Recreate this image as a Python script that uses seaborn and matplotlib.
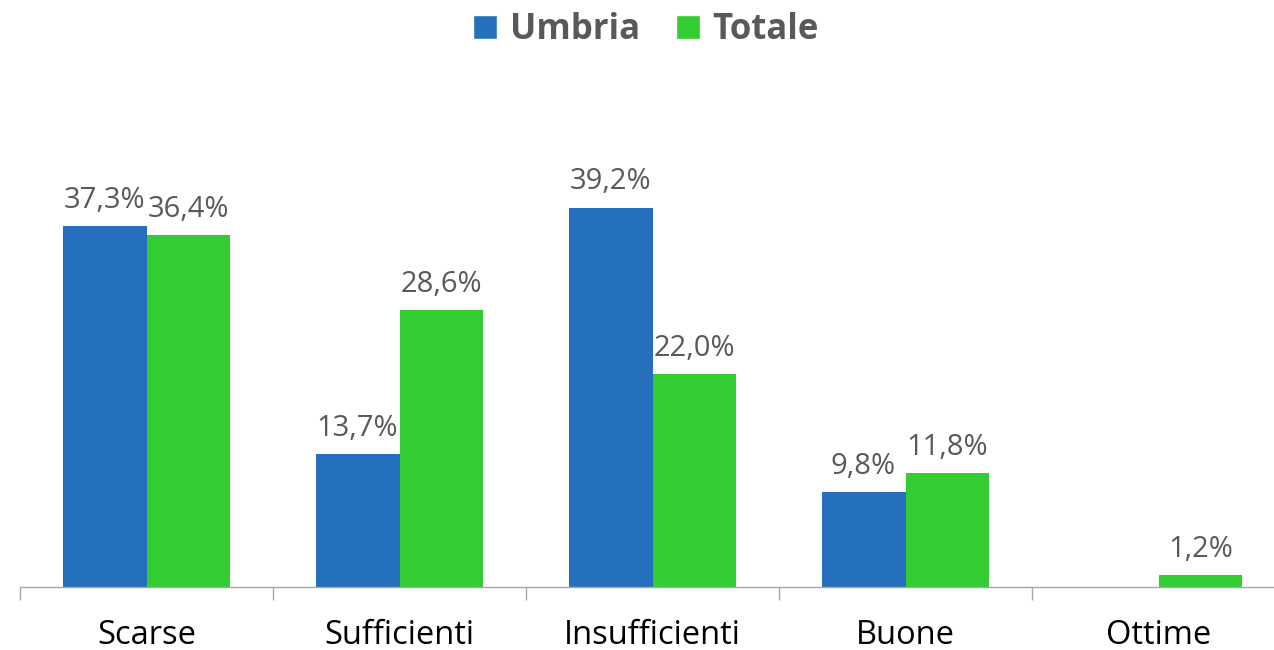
import matplotlib
matplotlib.use("Agg")
import matplotlib.pyplot as plt
import seaborn as sns
import pandas as pd
from matplotlib.patches import Patch

categories = ["Scarse", "Sufficienti", "Insufficienti", "Buone", "Ottime"]
umbria = [37.3, 13.7, 39.2, 9.8, 0.0]
totale = [36.4, 28.6, 22.0, 11.8, 1.2]
series = ["Umbria", "Totale"]

blue = "#2470BC"
green = "#33CC33"
label_gray = "#595959"

df = pd.DataFrame({
    "categoria": categories * 2,
    "serie": [series[0]] * len(categories) + [series[1]] * len(categories),
    "valore": umbria + totale,
})

sns.set_theme(style="white")
plt.rcParams["font.family"] = ["Open Sans", "DejaVu Sans"]

fig = plt.figure(figsize=(12.74, 6.5), dpi=100)
W, H = 1274, 650
ax = fig.add_axes([20 / W, (H - 587) / H, (1285 - 20) / W, (587 - 90) / H])

sns.barplot(data=df, x="categoria", y="valore", hue="serie",
            palette=[blue, green], width=0.664, saturation=1,
            linewidth=0, ax=ax, legend=False)

ax.set_xlim(-0.5, len(categories) - 0.5)
ax.set_ylim(0, (587 - 90) / 9.68)

for cont in ax.containers:
    for bar in cont:
        h = bar.get_height()
        if h > 0:
            ax.annotate(f"{h:.1f}%".replace(".", ","),
                        (bar.get_x() + bar.get_width() / 2, h),
                        xytext=(0, 8), textcoords="offset points",
                        ha="center", va="bottom", fontsize=21,
                        color=label_gray)

for s in ["top", "left", "right"]:
    ax.spines[s].set_visible(False)
ax.spines["bottom"].set_color("#A6A6A6")
ax.spines["bottom"].set_linewidth(1.0)

ax.set_yticks([])
ax.set_xlabel("")
ax.set_ylabel("")
ax.set_xticks(range(len(categories)))
ax.set_xticklabels(categories, fontsize=23.5, color="black")
ax.tick_params(axis="x", which="major", length=0, pad=23)
ax.set_xticks([i - 0.5 for i in range(len(categories) + 1)], minor=True)
ax.tick_params(axis="x", which="minor", length=9, width=1, color="#A6A6A6",
               bottom=True)

handles = [Patch(facecolor=blue, label=series[0]),
           Patch(facecolor=green, label=series[1])]
fig.legend(handles=handles, loc="center", bbox_to_anchor=(646 / W, 1 - 30 / H),
           ncol=2, frameon=False, handlelength=0.68, handleheight=0.68,
           handletextpad=0.36, columnspacing=1.05,
           prop={"size": 25, "weight": "bold"}, labelcolor=label_gray)

fig.savefig("out.png", dpi=100)
